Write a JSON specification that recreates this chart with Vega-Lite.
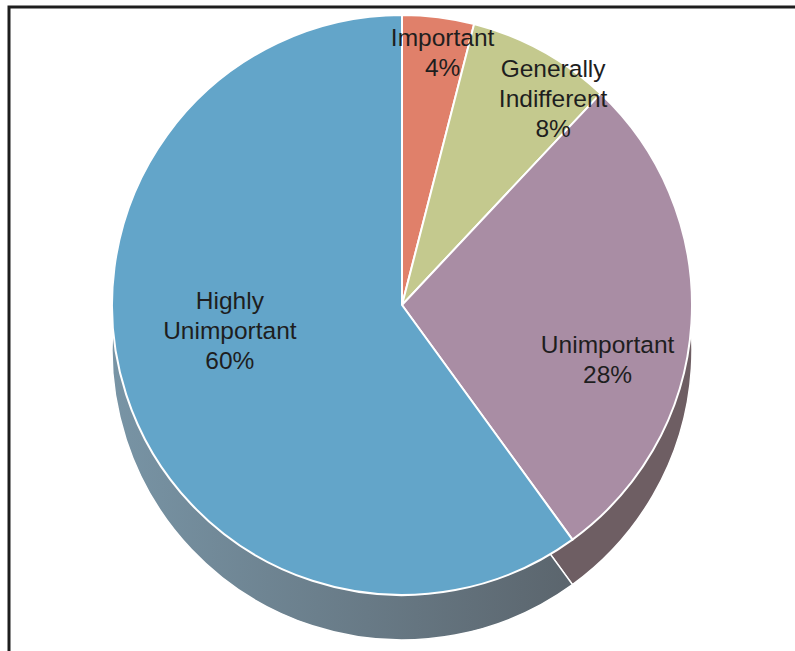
{
  "$schema": "https://vega.github.io/schema/vega-lite/v6.json",
  "width": 786,
  "height": 644,
  "autosize": "none",
  "padding": {"left": 9, "top": 7, "right": 0, "bottom": 0},
  "background": "white",
  "config": {"view": {"stroke": null}},
  "datasets": {
    "slices": [
      {"category": "Important", "pct": 4, "order": 1, "label": "Important\n4%"},
      {"category": "Generally Indifferent", "pct": 8, "order": 2, "label": "Generally\nIndifferent\n8%"},
      {"category": "Unimportant", "pct": 28, "order": 3, "label": "Unimportant\n28%"},
      {"category": "Highly Unimportant", "pct": 60, "order": 4, "label": "Highly\nUnimportant\n60%"}
    ],
    "frame": [{"name": "frame"}]
  },
  "layer": [
    {
      "data": {"name": "frame"},
      "mark": {"type": "rect", "fill": null, "stroke": "#1e1e1e", "strokeWidth": 3, "strokeDash": [786, 1430, 644]},
      "encoding": {}
    },
    {
      "data": {"name": "slices"},
      "mark": {"type": "arc", "outerRadius": 290, "yOffset": 21, "stroke": "white", "strokeWidth": 1.5},
      "encoding": {
        "theta": {"field": "pct", "type": "quantitative", "stack": true},
        "order": {"field": "order", "type": "quantitative"},
        "fill": {
          "condition": {"test": "datum.category === 'Unimportant'", "value": "#6E5E63"},
          "value": {"gradient": "linear", "x1": 0, "x2": 1, "y1": 0, "y2": 0,
            "stops": [{"offset": 0, "color": "#7894A5"}, {"offset": 1, "color": "#5B656D"}]}
        }
      }
    },
    {
      "data": {"name": "slices"},
      "mark": {"type": "arc", "outerRadius": 290, "yOffset": -24, "stroke": "white", "strokeWidth": 2},
      "encoding": {
        "theta": {"field": "pct", "type": "quantitative", "stack": true},
        "order": {"field": "order", "type": "quantitative"},
        "fill": {
          "field": "category", "type": "nominal", "legend": null,
          "scale": {
            "domain": ["Important", "Generally Indifferent", "Unimportant", "Highly Unimportant"],
            "range": ["#E0806A", "#C4C98E", "#A98DA4", "#63A5C9"]
          }
        }
      }
    },
    {
      "data": {"name": "slices"},
      "mark": {
        "type": "text", "yOffset": -24, "fontSize": 24.5, "font": "Liberation Sans",
        "fill": "#1e1e1e", "lineBreak": "\n", "lineHeight": 30, "baseline": "middle",
        "radius": {"expr": "datum.category === 'Important' ? 268 : datum.category === 'Generally Indifferent' ? 268 : datum.category === 'Unimportant' ? 206 : 181"},
        "dx": {"expr": "datum.category === 'Generally Indifferent' ? 22 : datum.category === 'Important' ? 7 : 0"},
        "dy": {"expr": "datum.category === 'Unimportant' ? 28 : datum.category === 'Highly Unimportant' ? -59 : 0"}
      },
      "encoding": {
        "theta": {"field": "pct", "type": "quantitative", "stack": true},
        "order": {"field": "order", "type": "quantitative"},
        "text": {"field": "label"}
      }
    }
  ]
}
